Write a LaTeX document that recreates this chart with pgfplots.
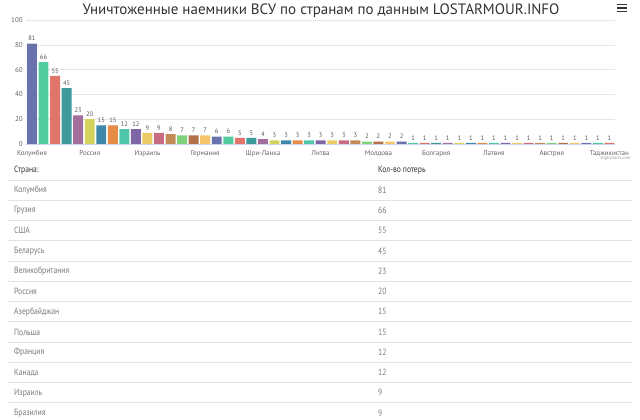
\documentclass[border=0pt]{standalone}
\usepackage{fontspec}
\setmainfont{PT Sans}
\newfontfamily\tfont[FakeStretch=0.85]{PT Sans}
\usepackage{pgfplots}
\pgfplotsset{compat=1.18}
\definecolor{c0}{HTML}{6A72AE}
\definecolor{c1}{HTML}{52CC9E}
\definecolor{c2}{HTML}{E2756B}
\definecolor{c3}{HTML}{3F9B9B}
\definecolor{c4}{HTML}{A26F9C}
\definecolor{c5}{HTML}{D4D45C}
\definecolor{c6}{HTML}{3D88AA}
\definecolor{c7}{HTML}{E58C47}
\definecolor{c8}{HTML}{50C7AA}
\definecolor{c9}{HTML}{7E66A6}
\definecolor{c10}{HTML}{EBCB66}
\definecolor{c11}{HTML}{C96B80}
\definecolor{c12}{HTML}{C28B58}
\definecolor{c13}{HTML}{80D17C}
\definecolor{c14}{HTML}{B2714A}
\definecolor{c15}{HTML}{F6C56C}
\definecolor{txt}{HTML}{666666}
\definecolor{lbl}{HTML}{555555}
\definecolor{ttl}{HTML}{333333}
\definecolor{rowtxt}{HTML}{7A7A7A}
\definecolor{grd}{HTML}{E6E6E6}
\definecolor{axl}{HTML}{CCD6EB}
\definecolor{sep}{HTML}{E3E3E3}
\begin{document}
\begin{tikzpicture}[x=1pt,y=1pt]
\path[use as bounding box, fill=white] (0,0) rectangle (640,-420);
\node[font=\fontsize{15}{18}\selectfont, text=ttl] at (321,-10.5) {Уничтоженные наемники ВСУ по странам по данным LOSTARMOUR.INFO};
\foreach \yy in {-4.5,-8,-11.5} \draw[line width=1.6pt, color=ttl] (617,\yy) -- (627,\yy);

\begin{axis}[
  at={(26.2pt,-144pt)}, anchor=south west, scale only axis,
  width=589pt, height=124pt,
  xmin=-0.5, xmax=50.5, ymin=0, ymax=100,
  ybar, bar width=0.86,
  ytick={0,20,...,100},
  ymajorgrids, grid style={grd, line width=0.6pt},
  xtick={0,5,...,50},
  xticklabels={Колумбия,Россия,Израиль,Германия,Шри-Ланка,Литва,Молдова,Болгария,Латвия,Австрия,Таджикистан},
  axis line style={draw=none},
  tick style={draw=none},
  ticklabel style={font=\fontsize{7}{8}\selectfont, text=txt},
  xticklabel style={yshift=1pt},
  /pgf/number format/assume math mode=true,
  nodes near coords,
  nodes near coords style={font=\fontsize{6.5}{7}\selectfont, text=lbl, yshift=-1pt},
  mybar/.style={fill=#1, draw=none, bar shift=0pt, bar width=0.86},
  clip=false,
]
\addplot[mybar=c0] coordinates {(0,81) (16,6) (32,2) (48,1)};
\addplot[mybar=c1] coordinates {(1,66) (17,6) (33,1) (49,1)};
\addplot[mybar=c2] coordinates {(2,55) (18,5) (34,1) (50,1)};
\addplot[mybar=c3] coordinates {(3,45) (19,5) (35,1)};
\addplot[mybar=c4] coordinates {(4,23) (20,4) (36,1)};
\addplot[mybar=c5] coordinates {(5,20) (21,3) (37,1)};
\addplot[mybar=c6] coordinates {(6,15) (22,3) (38,1)};
\addplot[mybar=c7] coordinates {(7,15) (23,3) (39,1)};
\addplot[mybar=c8] coordinates {(8,12) (24,3) (40,1)};
\addplot[mybar=c9] coordinates {(9,12) (25,3) (41,1)};
\addplot[mybar=c10] coordinates {(10,9) (26,3) (42,1)};
\addplot[mybar=c11] coordinates {(11,9) (27,3) (43,1)};
\addplot[mybar=c12] coordinates {(12,8) (28,3) (44,1)};
\addplot[mybar=c13] coordinates {(13,7) (29,2) (45,1)};
\addplot[mybar=c14] coordinates {(14,7) (30,2) (46,1)};
\addplot[mybar=c15] coordinates {(15,7) (31,2) (47,1)};
\draw[axl, line width=0.7pt] (axis cs:-0.5,0) -- (axis cs:50.5,0);
\end{axis}

\node[anchor=east, font=\fontsize{4.5}{5}\selectfont, text=gray!80] at (634,-158.5) {Highcharts.com};

% table
\node[anchor=west, font=\tfont\fontsize{9}{10}\selectfont, text=ttl, inner sep=0pt] at (14,-170) {Страна:};
\node[anchor=west, font=\tfont\fontsize{9}{10}\selectfont, text=ttl, inner sep=0pt] at (378,-170) {Кол-во потерь};
\foreach \nm/\vv [count=\k from 0] in {Колумбия/81,Грузия/66,США/55,Беларусь/45,Великобритания/23,Россия/20,Азербайджан/15,Польша/15,Франция/12,Канада/12,Израиль/9,Бразилия/9}{
  \draw[sep, line width=0.7pt] (8,{-180-20.25*\k}) -- (632,{-180-20.25*\k});
  \node[anchor=west, font=\tfont\fontsize{9}{10}\selectfont, text=rowtxt, inner sep=0pt] at (14,{-190.25-20.25*\k}) {\nm};
  \node[anchor=west, font=\tfont\fontsize{9}{10}\selectfont, text=rowtxt, inner sep=0pt] at (378,{-190.25-20.25*\k}) {\vv};
}
\end{tikzpicture}
\end{document}
